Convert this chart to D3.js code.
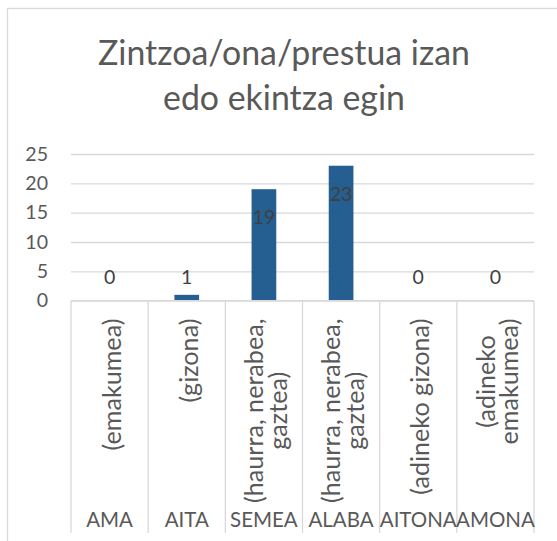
<!DOCTYPE html>
<html>
<head>
<meta charset="utf-8">
<script src="https://cdn.jsdelivr.net/npm/d3@7"></script>
<style>
  html, body { margin: 0; padding: 0; background: #fff; }
  svg { display: block; }
  text { font-family: Lato, "Open Sans", sans-serif; }
</style>
</head>
<body>
<script>
const titleLines = ["Zintzoa/ona/prestua izan", "edo ekintza egin"];
const categories = ["AMA", "AITA", "SEMEA", "ALABA", "AITONA", "AMONA"];
const subLabels = [
  ["(emakumea)"],
  ["(gizona)"],
  ["(haurra, nerabea,", "gaztea)"],
  ["(haurra, nerabea,", "gaztea)"],
  ["(adineko gizona)"],
  ["(adineko", "emakumea)"]
];
const values = [0, 1, 19, 23, 0, 0];
const yTicks = [0, 5, 10, 15, 20, 25];

const W = 557, H = 541;
const svg = d3.select("body").append("svg").attr("width", W).attr("height", H);

// chart border
svg.append("rect").attr("x", 7.5).attr("y", 8.5).attr("width", 600).attr("height", 600)
  .attr("fill", "#fff").attr("stroke", "#d9d9d9").attr("stroke-width", 1.3);

// fit font size helper
function fitSize(str, targetW, weight) {
  const t = svg.append("text").attr("font-size", 100).attr("font-weight", weight || 400).text(str);
  const w = t.node().getComputedTextLength();
  t.remove();
  return 100 * targetW / w;
}

const x = d3.scaleBand().domain(categories).range([71, 534]).padding(0);
const y = d3.scaleLinear().domain([0, 25]).range([300.7, 154]);

// title
const titleSize = fitSize(titleLines[0], 372);
svg.append("g").selectAll("text").data(titleLines).join("text")
  .attr("x", 284).attr("y", (d, i) => 65 + i * 45)
  .attr("text-anchor", "middle").attr("font-size", titleSize).attr("fill", "#595959")
  .text(d => d);

// gridlines + y labels
const tickSize = fitSize("25", 22.7);
const yAxis = svg.append("g").attr("transform", "translate(71,0)")
  .call(d3.axisLeft(y).tickValues(yTicks).tickSize(-(534 - 71)).tickPadding(23).tickFormat(d3.format("d")));
yAxis.select(".domain").remove();
yAxis.selectAll(".tick line").attr("stroke", "#d9d9d9").attr("stroke-width", 1.3);
yAxis.selectAll(".tick text").attr("font-size", tickSize).attr("fill", "#595959")
  .attr("font-family", "Lato, 'Open Sans', sans-serif");

// bars
const barW = x.bandwidth() * 0.32;
svg.append("g").selectAll("rect").data(values).join("rect")
  .attr("x", (d, i) => x(categories[i]) + (x.bandwidth() - barW) / 2)
  .attr("y", d => y(d))
  .attr("width", barW)
  .attr("height", d => y(0) - y(d))
  .attr("fill", "#255e91");

// category axis line
svg.append("line").attr("x1", 71).attr("x2", 534).attr("y1", y(0)).attr("y2", y(0))
  .attr("stroke", "#d9d9d9").attr("stroke-width", 1.3);

// separators
const bounds = categories.map(c => x(c)).concat([534]);
svg.append("g").selectAll("line").data(bounds).join("line")
  .attr("x1", d => d).attr("x2", d => d).attr("y1", y(0)).attr("y2", 533)
  .attr("stroke", "#d9d9d9").attr("stroke-width", 1.3);

// data labels
const dlSize = fitSize("25", 22.7);
svg.append("g").selectAll("text").data(values).join("text")
  .attr("x", (d, i) => x(categories[i]) + x.bandwidth() / 2)
  .attr("y", d => (y(0) - y(d) > 40) ? y(d) + 28 : Math.min(y(d), y(1)) - 18)
  .attr("dy", "0.35em")
  .attr("text-anchor", "middle").attr("font-size", dlSize).attr("fill", "#404040")
  .text(d => d);

// rotated sub labels
const subSize = fitSize("(emakumea)", 132);
const lineH = 23.2;
const subG = svg.append("g");
subLabels.forEach((lines, i) => {
  const cx = x(categories[i]) + x.bandwidth() / 2;
  const t = subG.append("text").attr("font-size", subSize).attr("fill", "#595959")
    .attr("text-anchor", "middle");
  lines.forEach((ln, j) => {
    t.append("tspan").attr("x", 0).attr("y", (j - (lines.length - 1) / 2) * lineH).text(ln);
  });
  const maxW = d3.max(t.selectAll("tspan").nodes(), n => n.getComputedTextLength());
  t.attr("transform", `translate(${cx + 11},${318.6 + maxW / 2}) rotate(-90)`);
});

// level-2 labels
const catSize = fitSize("AITONA", 77);
svg.append("g").selectAll("text").data(categories).join("text")
  .attr("x", d => x(d) + x.bandwidth() / 2).attr("y", 526.7)
  .attr("text-anchor", "middle").attr("font-size", catSize).attr("fill", "#595959")
  .text(d => d);
</script>
</body>
</html>
